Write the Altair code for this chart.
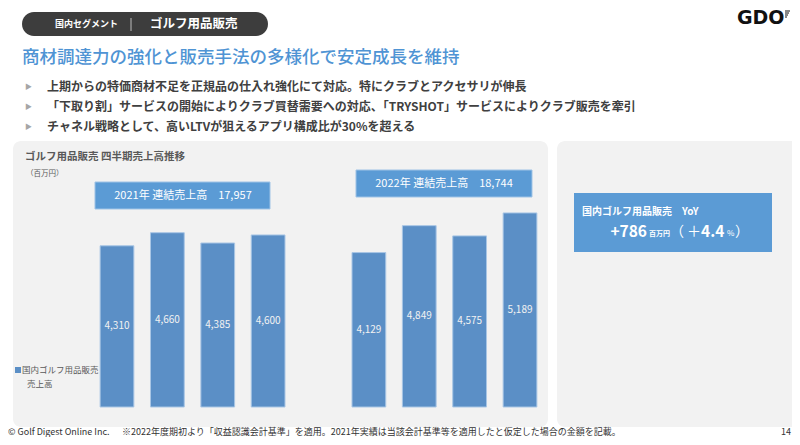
import altair as alt
import pandas as pd

JP = "Noto Sans CJK JP"
OFF = 8  # page margin

# ---------------- data ----------------
quarters = ["2021/Q1", "2021/Q2", "2021/Q3", "2021/Q4",
            "2022/Q1", "2022/Q2", "2022/Q3", "2022/Q4"]
sales = [4310, 4660, 4385, 4600, 4129, 4849, 4575, 5189]
slots = ["2021/Q1", "2021/Q2", "2021/Q3", "2021/Q4", "gap",
         "2022/Q1", "2022/Q2", "2022/Q3", "2022/Q4"]
tick_labels = ["2021/Q1", "Q2", "Q3", "Q4", "",
               "2022/Q1", "Q2", "Q3", "Q4"]
year_totals = ["2021年 連結売上高　17,957", "2022年 連結売上高　18,744"]

header_small = "国内セグメント"
header_big = "ゴルフ用品販売"
headline = "商材調達力の強化と販売手法の多様化で安定成長を維持"
bullets = [
    "上期からの特価商材不足を正規品の仕入れ強化にて対応。特にクラブとアクセサリが伸長",
    "「下取り割」サービスの開始によりクラブ買替需要への対応、「TRYSHOT」サービスによりクラブ販売を牽引",
    "チャネル戦略として、高いLTVが狙えるアプリ構成比が30%を超える",
]
chart_title = "ゴルフ用品販売 四半期売上高推移"
unit_label = "（百万円）"
legend_lines = ["国内ゴルフ用品販売", "売上高"]
yoy_title = "国内ゴルフ用品販売　YoY"
yoy_amount = "+786"
yoy_unit = "百万円"
yoy_pct = "4.4"
footer_left = "© Golf Digest Online Inc."
footer_note = "※2022年度期初より「収益認識会計基準」を適用。2021年実績は当該会計基準等を適用したと仮定した場合の金額を記載。"
page_no = "14"

df = pd.DataFrame({"quarter": quarters, "sales": sales})

BAR = "#5b8fc6"
BOX = "#5b9bd5"
PANEL = "#f2f2f2"
DARK = "#404040"
GRAY = "#595959"

ONE = alt.Data(values=[{"k": 1}])


def box(x1, y1, x2, y2, fill, r=0, stroke=None, sw=0):
    kw = dict(fill=fill, cornerRadius=r)
    if stroke:
        kw.update(stroke=stroke, strokeWidth=sw)
    else:
        kw.update(strokeWidth=0)
    return alt.Chart(ONE).mark_rect(**kw).encode(
        x=alt.value(x1 - OFF), x2=alt.value(x2 - OFF),
        y=alt.value(y1 - OFF), y2=alt.value(y2 - OFF))


def txt(x, y, s, size, color, weight="normal", align="left", font=JP,
        baseline="middle"):
    return alt.Chart(ONE).mark_text(
        text=s, fontSize=size, color=color, fontWeight=weight,
        align=align, baseline=baseline, font=font).encode(
        x=alt.value(x - OFF), y=alt.value(y - OFF))


def vrule(x, y1, y2, color, w=1):
    return alt.Chart(ONE).mark_rule(color=color, strokeWidth=w).encode(
        x=alt.value(x - OFF), y=alt.value(y1 - OFF), y2=alt.value(y2 - OFF))


layers = []
# header pill
layers += [
    box(22, 12, 268, 36, "#3d3d3d", r=12),
    txt(55, 24, header_small, 9, "white", "bold"),
    vrule(131, 18, 31, "#bdbdbd"),
    txt(150, 24, header_big, 12.5, "white", "bold"),
]
# logo
layers.append(txt(737, 18, "GDO", 19, "#111111", "bold", font="DejaVu Sans"))
for i, yy in enumerate([11, 13, 15, 17]):
    layers.append(alt.Chart(ONE).mark_rule(color="#111111", strokeWidth=1).encode(
        x=alt.value(785 - OFF), x2=alt.value(790 - OFF - i),
        y=alt.value(yy - OFF)))
# headline
layers.append(txt(22, 58, headline, 17.5, "#4f94d4", 500))
# bullets
for yy, b in zip([87, 107, 127], bullets):
    layers.append(txt(25, yy, "▶", 7, "#a6a6a6"))
    layers.append(txt(47, yy, b, 12, DARK, "bold"))
# panels
layers += [
    box(13, 141, 548, 427, PANEL, r=8),
    box(557, 141, 806, 427, PANEL, r=8),
]
# chart titles
layers += [
    txt(25, 157, chart_title, 10.5, GRAY, "bold"),
    txt(26, 174, unit_label, 7.5, GRAY),
]
# year total boxes
layers += [
    box(95, 182, 270, 209, BOX, stroke="#9fc3e6", sw=1),
    txt(183, 195.5, year_totals[0], 11, "white", align="center"),
    box(356, 170, 532, 197, BOX, stroke="#9fc3e6", sw=1),
    txt(444, 183.5, year_totals[1], 11, "white", align="center"),
]
# legend
layers += [
    box(15, 367, 21, 373, BAR),
    txt(22, 370, legend_lines[0], 8.5, GRAY),
    txt(27, 384, legend_lines[1], 8.5, GRAY),
]
# YoY box
layers += [
    box(574, 193, 772, 252, BOX),
    txt(582, 212, yoy_title, 10, "white", "bold"),
    txt(647, 232, yoy_amount, 15.5, "white", "bold", align="right"),
    txt(649, 233.5, yoy_unit, 7, "white", "bold"),
    txt(670, 232, "（", 14, "white"),
    txt(687, 232, "＋", 14, "white"),
    txt(701, 232, yoy_pct, 15.5, "white", "bold"),
    txt(727, 233.5, "%", 8, "white"),
    txt(735, 232, "）", 14, "white"),
]
# footer
layers += [
    txt(8, 436.5, footer_left, 9, "#333333", baseline="bottom"),
    txt(122, 436.5, footer_note, 9, "#333333", baseline="bottom"),
    txt(786, 436.5, page_no, 9, "#333333", align="center", baseline="bottom"),
]

# ---------------- bars ----------------
label_expr = ("[" + ",".join(f"'{t}'" for t in tick_labels) + "][indexof(["
              + ",".join(f"'{s}'" for s in slots) + "], datum.value)]")

W, H = 784, 429
xscale = alt.Scale(domain=slots, range=[91.8 - OFF, 545.2 - OFF],
                   paddingInner=0.33, paddingOuter=0.165)
yscale = alt.Scale(domain=[0, 6000], range=[407 - OFF, 182.6 - OFF])

base = alt.Chart(df)
bars = base.mark_bar(color=BAR, stroke="#a9c6e5", strokeWidth=1).encode(
    x=alt.X("quarter:N", scale=xscale, sort=slots,
            axis=alt.Axis(title=None, ticks=False, domainColor="#bfbfbf",
                          domainWidth=1, labelColor=GRAY, labelFontSize=9,
                          labelFont=JP, labelAngle=0, labelPadding=6,
                          offset=-(H - (407 - OFF)), grid=False,
                          labelExpr=label_expr)),
    y=alt.Y("sales:Q", scale=yscale, axis=None),
)
values = base.transform_calculate(mid="datum.sales/2").mark_text(
    color="#f2f2f2", fontSize=10, font=JP, baseline="middle").encode(
    x=alt.X("quarter:N", scale=xscale, sort=slots),
    y=alt.Y("mid:Q", scale=yscale),
    text=alt.Text("sales:Q", format=","),
)

layers += [bars, values]

chart = alt.layer(*layers).properties(
    width=W, height=H, padding=0,
    autosize=alt.AutoSizeParams(type="none"),
    background="white",
).configure_view(stroke=None)

chart.save("out.html", embed_options={"renderer": "svg", "actions": False})
